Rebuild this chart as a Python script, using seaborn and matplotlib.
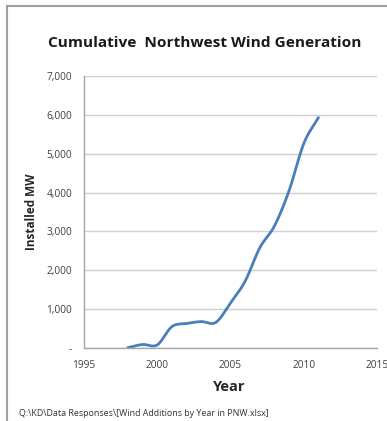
import numpy as np
import pandas as pd
import seaborn as sns
import matplotlib.pyplot as plt
from matplotlib.patches import Rectangle
from matplotlib.ticker import FuncFormatter

# Cumulative installed wind capacity in the Pacific Northwest (MW)
years = [1998, 1999, 2000, 2001, 2002, 2003, 2004, 2005, 2006, 2007, 2008, 2009, 2010, 2011]
installed_mw = [10, 90, 80, 550, 630, 680, 660, 1160, 1720, 2580, 3140, 4050, 5260, 5930]

x_ticks = [1995, 2000, 2005, 2010, 2015]
y_ticks = [0, 1000, 2000, 3000, 4000, 5000, 6000, 7000]

title = "Cumulative  Northwest Wind Generation"
x_label = "Year"
y_label = "Installed MW"
source_note = "Q:\\KD\\Data Responses\\[Wind Additions by Year in PNW.xlsx]"


def smooth_curve(xs, ys, steps=24):
    """Catmull-Rom style smoothing, like a spreadsheet 'smoothed line'."""
    xs = np.asarray(xs, float)
    ys = np.asarray(ys, float)
    px = np.concatenate([[2 * xs[0] - xs[1]], xs, [2 * xs[-1] - xs[-2]]])
    py = np.concatenate([[2 * ys[0] - ys[1]], ys, [2 * ys[-1] - ys[-2]]])
    out_x, out_y = [], []
    t = np.linspace(0, 1, steps, endpoint=False)
    for i in range(1, len(px) - 2):
        p0, p1, p2, p3 = (np.array([px[j], py[j]]) for j in range(i - 1, i + 3))
        c1 = p1 + (p2 - p0) / 6
        c2 = p2 - (p3 - p1) / 6
        b = ((1 - t) ** 3)[:, None] * p1 + (3 * (1 - t) ** 2 * t)[:, None] * c1 \
            + (3 * (1 - t) * t ** 2)[:, None] * c2 + (t ** 3)[:, None] * p2
        out_x.extend(b[:, 0])
        out_y.extend(b[:, 1])
    out_x.append(xs[-1])
    out_y.append(ys[-1])
    return np.array(out_x), np.array(out_y)


sx, sy = smooth_curve(years, installed_mw)
curve = pd.DataFrame({"year": sx, "mw": sy})

sns.set_style("white")
plt.rcParams["font.family"] = ["Open Sans", "DejaVu Sans"]

W, H = 387, 421
fig = plt.figure(figsize=(W / 100, H / 100), dpi=100)
ax = fig.add_axes([84 / W, 1 - 348 / H, (377 - 84) / W, (348 - 76) / H])

sns.lineplot(data=curve, x="year", y="mw", ax=ax, color="#4A7EBB",
             linewidth=2.0, sort=False, estimator=None)

ax.set_xlim(1995, 2015)
ax.set_ylim(0, 7000)
ax.set_xticks(x_ticks)
ax.set_yticks(y_ticks)
ax.yaxis.set_major_formatter(FuncFormatter(lambda v, p: "-" if v == 0 else f"{int(v):,}"))
ax.grid(axis="y", color="#d0d0d0", linewidth=1.0)
ax.set_axisbelow(True)
ax.tick_params(axis="both", length=0, labelsize=7.3, colors="#404040")
ax.tick_params(axis="x", pad=9)
ax.tick_params(axis="y", pad=8.6)

for side in ("top", "right"):
    ax.spines[side].set_visible(False)
for side in ("left", "bottom"):
    ax.spines[side].set_color("#a6a6a6")
    ax.spines[side].set_linewidth(1.0)

ax.set_xlabel(x_label, fontsize=10.5, fontweight="bold")
ax.set_ylabel(y_label, fontsize=8.5, fontweight="bold")
ax.xaxis.set_label_coords((229 - 84) / (377 - 84), -(380 - 348) / (348 - 76))
ax.yaxis.set_label_coords(-(84 - 38) / (377 - 84), (348 - 212) / (348 - 76))

fig.text(205 / W, 1 - 43 / H, title, ha="center", va="center",
         fontsize=11.1, fontweight="bold", color="#1a1a1a")
fig.text(19 / W, 1 - 413 / H, source_note, ha="left", va="center",
         fontsize=6.4, color="#333333")

# chart frame
fig.patches.append(Rectangle((7 / W, -0.1), 1.2, 1 - 6 / H + 0.1,
                             transform=fig.transFigure, fill=False,
                             edgecolor="#a0a0a0", linewidth=1.5))

fig.savefig("out.png", dpi=100)
